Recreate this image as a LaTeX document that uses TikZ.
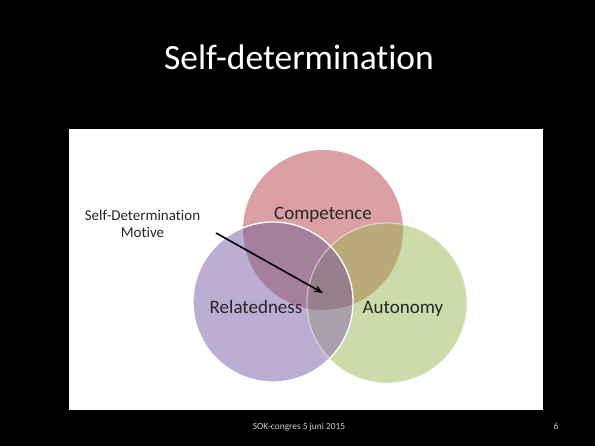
\documentclass[tikz,border=0pt]{standalone}
\usepackage{fontspec}
\setmainfont[Ligatures=CommonOff]{Carlito}
\usetikzlibrary{arrows.meta}
\definecolor{colC}{HTML}{DAA0A3}
\definecolor{colR}{HTML}{BCAED2}
\definecolor{colA}{HTML}{CDDBAA}
\definecolor{colCR}{HTML}{A67F9E}
\definecolor{colCA}{HTML}{BAAA7A}
\definecolor{colRA}{HTML}{A8A1AC}
\definecolor{colCRA}{HTML}{96808C}
\definecolor{labeltext}{HTML}{262626}
\definecolor{foottext}{HTML}{D0D0D0}
\tikzset{
  vlabel/.style={font=\fontsize{19}{22}\selectfont, text=labeltext, anchor=base, inner sep=0pt},
  smalllabel/.style={font=\fontsize{15}{17.5}\selectfont, text=labeltext, align=center, inner sep=0pt},
  foot/.style={font=\fontsize{9.4}{11}\selectfont, text=foottext, anchor=base, inner sep=0pt},
  ring/.style={draw=white, line width=1.3pt},
}
\begin{document}
\begin{tikzpicture}[x=1pt,y=-1pt]
\fill[black] (0,0) rectangle (595,446);
\useasboundingbox (0,0) rectangle (595,446);
\fill[white] (69,129) rectangle (543,410);
% circle centres
\coordinate (cC) at (323,230);
\coordinate (cR) at (273,302);
\coordinate (cA) at (387,303);
\def\rad{80pt}
% single regions
\fill[colC] (cC) circle[radius=\rad];
\fill[colR] (cR) circle[radius=\rad];
\fill[colA] (cA) circle[radius=\rad];
% pairwise
\begin{scope}\clip (cC) circle[radius=\rad]; \fill[colCR] (cR) circle[radius=\rad];\end{scope}
\begin{scope}\clip (cC) circle[radius=\rad]; \fill[colCA] (cA) circle[radius=\rad];\end{scope}
\begin{scope}\clip (cR) circle[radius=\rad]; \fill[colRA] (cA) circle[radius=\rad];\end{scope}
\begin{scope}\clip (cC) circle[radius=\rad]; \clip (cR) circle[radius=\rad]; \fill[colCRA] (cA) circle[radius=\rad];\end{scope}
% outlines
\draw[ring, draw opacity=0.45] (cA) circle[radius=\rad];
\draw[ring] (cR) circle[radius=\rad];
% labels
\node[vlabel] (comp) at (323,219.5) {Competence};
\node[vlabel] (rel) at (256,313.5) {Relatedness};
\node[vlabel] (aut) at (403,313.5) {Autonomy};
\node[smalllabel, anchor=base] (sdm) at (142.5,238) {Self-Determination\\Motive};
\coordinate (tip) at (323,293);
\draw[line width=1.6pt, -{Stealth[length=9pt,width=7pt]}] (216,233) -- (tip);
% title and footer
\node[font=\fontsize{35.5}{40}\selectfont, text=white, anchor=base, inner sep=0pt] (title) at (299,69.5) {Self-determination};
\node[foot] (footer) at (299,429.5) {SOK-congres 5 juni 2015};
\node[foot] (page) at (556,429.5) {6};
\end{tikzpicture}
\end{document}
